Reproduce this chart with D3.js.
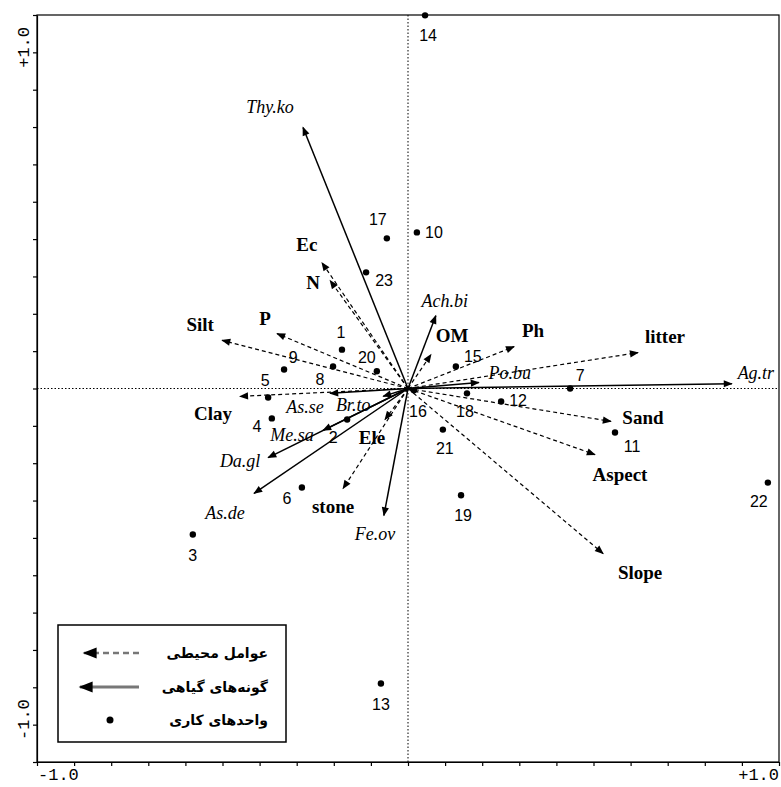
<!DOCTYPE html>
<html><head><meta charset="utf-8">
<script src="https://cdnjs.cloudflare.com/ajax/libs/d3/7.8.5/d3.min.js"></script>
<style>html,body{margin:0;padding:0;background:#fff;}</style>
</head><body>
<svg id="chart" width="781" height="787"></svg>
<script>
// ---- data ----
const envNames = ["Ec","N","Silt","P","Clay","Ele","stone","OM","Ph","litter","Sand","Aspect","Slope"];
const envX = [-0.232,-0.210,-0.501,-0.353,-0.453,-0.062,-0.175,0.062,0.286,0.620,0.547,0.504,0.526];
const envY = [0.337,0.289,0.129,0.147,-0.021,-0.083,-0.268,0.091,0.112,0.096,-0.088,-0.177,-0.442];

const spNames = ["Thy.ko","Ach.bi","Po.bu","Ag.tr","As.se","Br.to","Me.sa","Da.gl","As.de","Fe.ov"];
const spX = [-0.283,0.075,0.191,0.873,-0.210,-0.067,-0.229,-0.377,-0.415,-0.065];
const spY = [0.699,0.195,0.016,0.013,-0.013,-0.021,-0.112,-0.185,-0.281,-0.340];

const siteNames = ["1","2","3","4","5","6","7","8","9","10","11","12","13","14","15","16","17","18","19","20","21","22","23"];
const siteX = [-0.178,-0.164,-0.580,-0.367,-0.377,-0.286,0.437,-0.202,-0.334,0.024,0.558,0.251,-0.073,0.046,0.129,0.016,-0.057,0.159,0.143,-0.084,0.094,0.970,-0.113];
const siteY = [0.104,-0.083,-0.391,-0.080,-0.024,-0.265,0.000,0.059,0.051,0.418,-0.118,-0.035,-0.790,0.999,0.059,-0.005,0.402,-0.013,-0.286,0.046,-0.110,-0.252,0.311];

const tickLabels = ["-1.0","+1.0"];
const legendLabels = ["عوامل محیطی","گونه‌های گیاهی","واحدهای کاری"];

// ---- layout (label offsets in px) ----
const envOff = {Ec:[-15,-18],N:[-17,2],Silt:[-22,-16],P:[-12,-15],Clay:[-27,17],Ele:[-13,18],stone:[-10,18],OM:[21,-19],Ph:[19,-16],litter:[27,-16],Sand:[32,-4],Aspect:[25,20],Slope:[37,19]};
const spOff = {"Thy.ko":[-33,-20],"Ach.bi":[9,-15],"Po.bu":[31,-10],"Ag.tr":[24,-11],"As.se":[-25,14],"Br.to":[-30,9],"Me.sa":[-31,5],"Da.gl":[-28,3],"As.de":[-29,20],"Fe.ov":[-9,19]};
const siteOff = {"1":[-1,-17],"2":[-14,18],"3":[0,21],"4":[-15,8],"5":[-3,-17],"6":[-15,11],"7":[10,-13],"8":[-13,13],"9":[9,-12],"10":[17,0],"11":[17,14],"12":[17,-1],"13":[0,21],"14":[3,20],"15":[17,-10],"16":[4,21],"17":[-9,-19],"18":[-2,18],"19":[2,20],"20":[-10,-14],"21":[2,19],"22":[-9,19],"23":[18,8]};

const svg = d3.select("#chart");
const L=37, R=779, T=15, B=762;
const x = d3.scaleLinear().domain([-1,1]).range([L,R]);
const y = d3.scaleLinear().domain([-1,1]).range([B,T]);

const defs = svg.append("defs");
defs.append("marker").attr("id","ah").attr("markerUnits","userSpaceOnUse")
  .attr("viewBox","0 -5 10 10").attr("refX",9).attr("refY",0)
  .attr("markerWidth",10).attr("markerHeight",9).attr("orient","auto")
  .append("path").attr("d","M0,-4L10,0L0,4Z").attr("fill","#000");
defs.append("marker").attr("id","ahg").attr("markerUnits","userSpaceOnUse")
  .attr("viewBox","0 -5 10 10").attr("refX",9).attr("refY",0)
  .attr("markerWidth",16).attr("markerHeight",14).attr("orient","auto")
  .append("path").attr("d","M0,-4L10,0L0,4Z").attr("fill","#000");

// frame
svg.append("rect").attr("x",L).attr("y",T).attr("width",R-L).attr("height",B-T)
  .attr("fill","none").attr("stroke","#000").attr("stroke-width",1.2);

// zero lines
svg.append("line").attr("x1",x(-1)).attr("x2",x(1)).attr("y1",y(0)).attr("y2",y(0))
  .attr("stroke","#000").attr("stroke-width",1).attr("stroke-dasharray","1.5,2");
svg.append("line").attr("x1",x(0)).attr("x2",x(0)).attr("y1",y(-1)).attr("y2",y(1))
  .attr("stroke","#000").attr("stroke-width",1).attr("stroke-dasharray","1.5,2");

// axes ticks
const tv = d3.range(-10,11).map(d=>d/10);
const ax = svg.append("g").attr("transform",`translate(0,${B})`)
  .call(d3.axisBottom(x).tickValues(tv).tickFormat("").tickSize(4).tickSizeOuter(0));
const ay = svg.append("g").attr("transform",`translate(${L},0)`)
  .call(d3.axisLeft(y).tickValues(tv).tickFormat("").tickSize(4).tickSizeOuter(0));
[ax,ay].forEach(g=>{g.select(".domain").attr("stroke","#000").attr("stroke-width",1.2);g.selectAll(".tick line").attr("stroke","#000").attr("stroke-width",1.2);});

const monoF = "'Liberation Mono','DejaVu Sans Mono',monospace";
svg.append("text").attr("x",x(-1)+1).attr("y",780).attr("font-family",monoF).attr("font-size",17).text(tickLabels[0]);
svg.append("text").attr("x",x(1)).attr("y",780).attr("text-anchor","end").attr("font-family",monoF).attr("font-size",17).text(tickLabels[1]);
svg.append("text").attr("transform",`translate(29,${y(1)+12}) rotate(-90)`).attr("text-anchor","end").attr("font-family",monoF).attr("font-size",17).text(tickLabels[1]);
svg.append("text").attr("transform",`translate(29,${y(-1)-22}) rotate(-90)`).attr("text-anchor","start").attr("font-family",monoF).attr("font-size",17).text(tickLabels[0]);

// env arrows
const env = envNames.map((n,i)=>({n,x:envX[i],y:envY[i]}));
svg.append("g").selectAll("line").data(env).join("line")
  .attr("x1",x(0)).attr("y1",y(0)).attr("x2",d=>x(d.x)).attr("y2",d=>y(d.y))
  .attr("stroke","#000").attr("stroke-width",1.2).attr("stroke-dasharray","4,3")
  .attr("marker-end","url(#ah)");
svg.append("g").selectAll("text").data(env).join("text")
  .attr("x",d=>x(d.x)+envOff[d.n][0]).attr("y",d=>y(d.y)+envOff[d.n][1])
  .attr("text-anchor","middle").attr("dominant-baseline","central")
  .attr("font-family","'Liberation Serif','Times New Roman',serif").attr("font-weight","bold")
  .attr("font-size",19).text(d=>d.n);

// species arrows
const sp = spNames.map((n,i)=>({n,x:spX[i],y:spY[i]}));
svg.append("g").selectAll("line").data(sp).join("line")
  .attr("x1",x(0)).attr("y1",y(0)).attr("x2",d=>x(d.x)).attr("y2",d=>y(d.y))
  .attr("stroke","#000").attr("stroke-width",1.5)
  .attr("marker-end","url(#ah)");
svg.append("g").selectAll("text").data(sp).join("text")
  .attr("x",d=>x(d.x)+spOff[d.n][0]).attr("y",d=>y(d.y)+spOff[d.n][1])
  .attr("text-anchor","middle").attr("dominant-baseline","central")
  .attr("font-family","'Liberation Serif','Times New Roman',serif").attr("font-style","italic")
  .attr("font-size",18).text(d=>d.n);

// sites
const sites = siteNames.map((n,i)=>({n,x:siteX[i],y:siteY[i]}));
svg.append("g").selectAll("circle").data(sites).join("circle")
  .attr("cx",d=>x(d.x)).attr("cy",d=>y(d.y)).attr("r",3.2).attr("fill","#000");
svg.append("g").selectAll("text").data(sites).join("text")
  .attr("x",d=>x(d.x)+siteOff[d.n][0]).attr("y",d=>y(d.y)+siteOff[d.n][1])
  .attr("text-anchor","middle").attr("dominant-baseline","central")
  .attr("font-family","'Liberation Sans',Arial,sans-serif")
  .attr("font-size",16).text(d=>d.n);

// legend
const lg = svg.append("g");
lg.append("rect").attr("x",58).attr("y",625).attr("width",228).attr("height",117)
  .attr("fill","#fff").attr("stroke","#000").attr("stroke-width",1.5);
const rowsY = [653,687,720];
lg.append("line").attr("x1",139).attr("x2",84).attr("y1",rowsY[0]).attr("y2",rowsY[0])
  .attr("stroke","#777").attr("stroke-width",2.5).attr("stroke-dasharray","6,4").attr("marker-end","url(#ahg)");
lg.append("line").attr("x1",139).attr("x2",80).attr("y1",rowsY[1]).attr("y2",rowsY[1])
  .attr("stroke","#777").attr("stroke-width",3).attr("marker-end","url(#ahg)");
lg.append("circle").attr("cx",110).attr("cy",rowsY[2]).attr("r",3.5).attr("fill","#000");
lg.selectAll("text").data(legendLabels).join("text")
  .attr("x",268).attr("y",(d,i)=>rowsY[i]).attr("text-anchor","end").attr("dominant-baseline","central")
  .attr("font-family","'DejaVu Sans','Noto Sans',sans-serif").attr("font-weight","bold")
  .attr("font-size",14).text(d=>d);
</script>
</body></html>
